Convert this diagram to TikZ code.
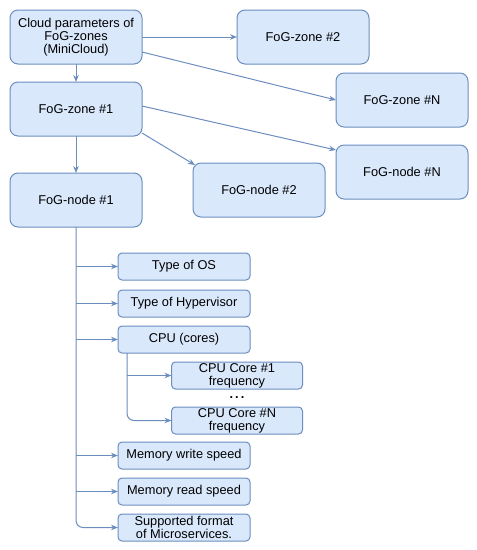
\documentclass[tikz,border=0pt]{standalone}
\usepackage{fontspec}
\setmainfont{Liberation Sans}
\usetikzlibrary{arrows.meta,positioning,calc}
\definecolor{boxfill}{HTML}{DAE8FC}
\definecolor{edge}{HTML}{6C8EBF}
\tikzset{
  every node/.style={font=\fontsize{12.8}{13}\selectfont,text=black},
  box/.style={draw=edge,line width=1pt,fill=boxfill,rounded corners=8pt,align=center,inner sep=2pt,outer sep=0pt,minimum width=132pt,minimum height=54pt},
  smallbox/.style={box,rounded corners=4pt,inner ysep=0.5pt,minimum height=27pt},
  arrow/.style={-{Stealth[length=7pt,width=5.5pt]},line width=1pt,draw=edge},
}
\begin{document}
\begin{tikzpicture}[x=1pt,y=1pt]
\useasboundingbox (0,0) rectangle (477,-550);

\node[box] (cloud) at (76,-37) {Cloud parameters of\\FoG-zones\\(MiniCloud)};
\node[box,below=18pt of cloud] (zone1) {FoG-zone \#1};
\node[box,below=37pt of zone1] (node1) {FoG-node \#1};
\node[box,right=95pt of cloud] (zone2) {FoG-zone \#2};
\node[box,below right=9pt and -33pt of zone2] (zoneN) {FoG-zone \#N};
\node[box,below=18pt of zoneN] (nodeN) {FoG-node \#N};
\node[box,below right=27pt and 51pt of zone1] (node2) {FoG-node \#2};

% parameters of one node
\node[smallbox,below=26pt of node1,xshift=108pt] (os) {Type of OS};
\node[smallbox,below=10pt of os] (hyp) {Type of Hypervisor};
\node[smallbox,below=9pt of hyp] (cpu) {CPU (cores)};
\node[smallbox,minimum width=131pt,below=9pt of cpu,xshift=53pt] (core1) {CPU Core \#1\\frequency};
\node[smallbox,minimum width=131pt,below=18pt of core1] (coreN) {CPU Core \#N\\frequency};
\node[inner sep=0pt] (dots) at ($(core1.south)!0.5!(coreN.north)$) {\textbf{.\,.\,.}};
\node[smallbox,below=8pt of coreN,xshift=-53pt] (write) {Memory write speed};
\node[smallbox,below=9pt of write] (read) {Memory read speed};
\node[smallbox,below=9pt of read] (sup) {Supported format\\of Microservices.};

\draw[arrow] (cloud) -- (zone1);
\draw[arrow] (zone1) -- (node1);
\draw[arrow] (cloud.east) -- (zone2.west);
\draw[arrow] ([yshift=-15pt]cloud.east) -- (zoneN.west);
\draw[arrow] ([yshift=3pt]zone1.east) -- ([yshift=-5pt]nodeN.north west);
\draw[arrow] ([yshift=3pt]zone1.south east) -- ([xshift=2pt,yshift=-2pt]node2.north west);

\draw[arrow,rounded corners=7pt] (node1.south) |- (sup.west);
\foreach \p in {os,hyp,cpu,write,read}
  \draw[arrow] (node1.south |- \p.west) -- (\p.west);

\coordinate (cpufork) at ([xshift=9pt]cpu.south west);
\draw[arrow,rounded corners=7pt] (cpufork) |- (coreN.west);
\draw[arrow] (cpufork |- core1.west) -- (core1.west);

\end{tikzpicture}
\end{document}
